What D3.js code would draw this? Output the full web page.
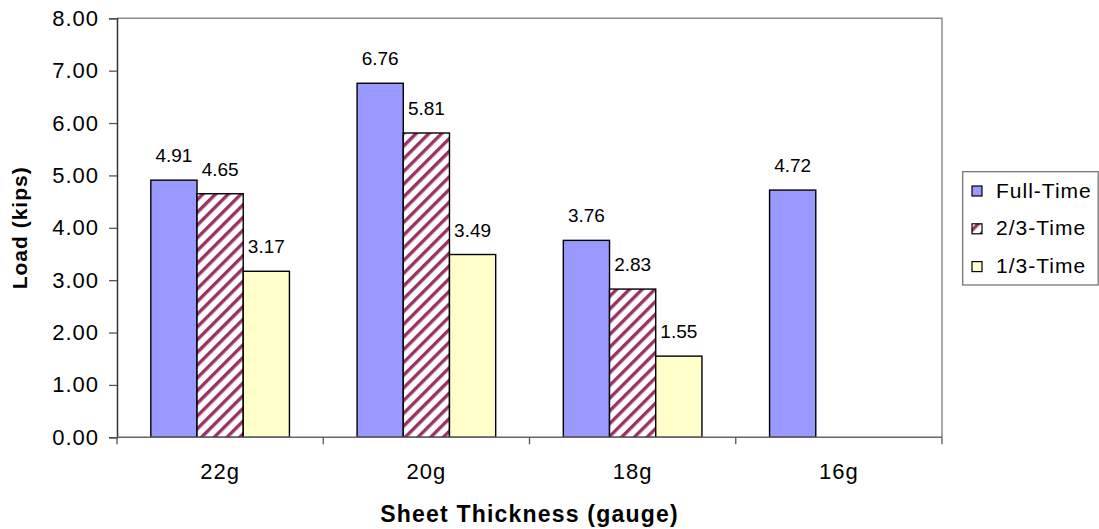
<!DOCTYPE html>
<html>
<head>
<meta charset="utf-8">
<script src="https://cdn.jsdelivr.net/npm/d3@7"></script>
<style>
  html, body { margin: 0; padding: 0; background: #fff; }
  svg { display: block; font-family: "Liberation Sans", Arial, sans-serif; }
</style>
</head>
<body>
<svg id="chart" width="1099" height="529"></svg>
<script>
// Gauge categories along the x axis
const categories = ["22g", "20g", "18g", "16g"];
// Series names (legend order)
const seriesNames = ["Full-Time", "2/3-Time", "1/3-Time"];
// Load values in kips per series (null = not tested)
const fullTime = [4.91, 6.76, 3.76, 4.72];
const twoThirdsTime = [4.65, 5.81, 2.83, null];
const oneThirdTime = [3.17, 3.49, 1.55, null];
// Y axis ticks
const yTicks = [0, 1, 2, 3, 4, 5, 6, 7, 8];

const seriesValues = [fullTime, twoThirdsTime, oneThirdTime];

const svg = d3.select("#chart");
const plot = { left: 117, right: 942, top: 18.3, bottom: 437.3 };

const defs = svg.append("defs");
const hatch = defs.append("pattern")
  .attr("id", "hatch")
  .attr("patternUnits", "userSpaceOnUse")
  .attr("width", 9).attr("height", 9)
  .attr("patternTransform", "rotate(45)");
hatch.append("rect").attr("width", 9).attr("height", 9).attr("fill", "#ffffff");
hatch.append("rect").attr("x", 0).attr("y", 0).attr("width", 3.4).attr("height", 9).attr("fill", "#993366");

const fills = ["#9999ff", "url(#hatch)", "#ffffcc"];

const x0 = d3.scaleBand().domain(categories).range([plot.left, plot.right]).paddingInner(0).paddingOuter(0);
const x1 = d3.scaleBand().domain(seriesNames).range([0, x0.bandwidth()]).paddingInner(0).paddingOuter(0.732);
const y = d3.scaleLinear().domain([0, 8]).range([plot.bottom, plot.top]);

// Plot frame: gray top and right edges
svg.append("path")
  .attr("d", `M${plot.left},${plot.top}H${plot.right}V${plot.bottom}`)
  .attr("fill", "none").attr("stroke", "#8c8c8c").attr("stroke-width", 1.5);

// Bars
const rows = [];
categories.forEach((c, i) => {
  seriesNames.forEach((s, j) => {
    const v = seriesValues[j][i];
    if (v != null) rows.push({ c, s, j, v });
  });
});

svg.append("g").selectAll("rect").data(rows).join("rect")
  .attr("x", d => x0(d.c) + x1(d.s))
  .attr("y", d => y(d.v))
  .attr("width", x1.bandwidth())
  .attr("height", d => y(0) - y(d.v))
  .attr("fill", d => fills[d.j])
  .attr("stroke", "#000").attr("stroke-width", 1.4);

// Value labels
svg.append("g").selectAll("text").data(rows).join("text")
  .attr("x", d => x0(d.c) + x1(d.s) + x1.bandwidth() / 2)
  .attr("y", d => y(d.v) - 18)
  .attr("text-anchor", "middle")
  .attr("font-size", 19).attr("fill", "#000")
  .text(d => d.v.toFixed(2));

// Y axis
const yAxis = svg.append("g")
  .attr("transform", `translate(${plot.left},0)`)
  .call(d3.axisLeft(y).tickValues(yTicks).tickSize(8).tickPadding(10).tickFormat(d => d.toFixed(2)));
yAxis.select(".domain").attr("stroke", "#333").attr("stroke-width", 1.5);
yAxis.selectAll(".tick line").attr("stroke", "#555").attr("stroke-width", 1.3);
yAxis.selectAll(".tick text").attr("font-size", 22).attr("letter-spacing", 1).attr("fill", "#000")
  .attr("font-family", "Liberation Sans, Arial, sans-serif");

// X axis: ticks at category boundaries
const xAxis = svg.append("g").attr("transform", `translate(0,${plot.bottom})`);
xAxis.append("line").attr("x1", plot.left).attr("x2", plot.right)
  .attr("stroke", "#666").attr("stroke-width", 1.5);
const bounds = categories.map(c => x0(c)).concat([plot.right]);
xAxis.selectAll("line.tk").data(bounds).join("line").attr("class", "tk")
  .attr("x1", d => d).attr("x2", d => d).attr("y1", 0).attr("y2", 7)
  .attr("stroke", "#555").attr("stroke-width", 1.3);
xAxis.selectAll("text").data(categories).join("text")
  .attr("x", d => x0(d) + x0.bandwidth() / 2)
  .attr("y", 42)
  .attr("text-anchor", "middle")
  .attr("font-size", 22).attr("letter-spacing", 1).attr("fill", "#000")
  .text(d => d);

// Axis titles
svg.append("text")
  .attr("x", (plot.left + plot.right) / 2).attr("y", 521.5)
  .attr("text-anchor", "middle").attr("font-weight", "bold")
  .attr("font-size", 23).attr("letter-spacing", 1.2)
  .text("Sheet Thickness (gauge)");
svg.append("text")
  .attr("transform", `translate(27,${(plot.top + plot.bottom) / 2}) rotate(-90)`)
  .attr("text-anchor", "middle").attr("font-weight", "bold")
  .attr("font-size", 21).attr("letter-spacing", 1)
  .text("Load (kips)");

// Legend
const legend = svg.append("g");
legend.append("rect")
  .attr("x", 962.7).attr("y", 171.7).attr("width", 135.5).attr("height", 113.3)
  .attr("fill", "#fff").attr("stroke", "#777").attr("stroke-width", 1.3);
const li = legend.selectAll("g.item").data(seriesNames).join("g").attr("class", "item")
  .attr("transform", (d, i) => `translate(972,${190 + i * 37.8})`);
li.append("rect").attr("x", 0).attr("y", -4).attr("width", 10).attr("height", 10)
  .attr("fill", (d, i) => fills[i]).attr("stroke", "#000").attr("stroke-width", 1.2);
li.append("text").attr("x", 24).attr("y", 7.5)
  .attr("font-size", 21).attr("letter-spacing", 1).attr("fill", "#000")
  .text(d => d);
</script>
</body>
</html>
